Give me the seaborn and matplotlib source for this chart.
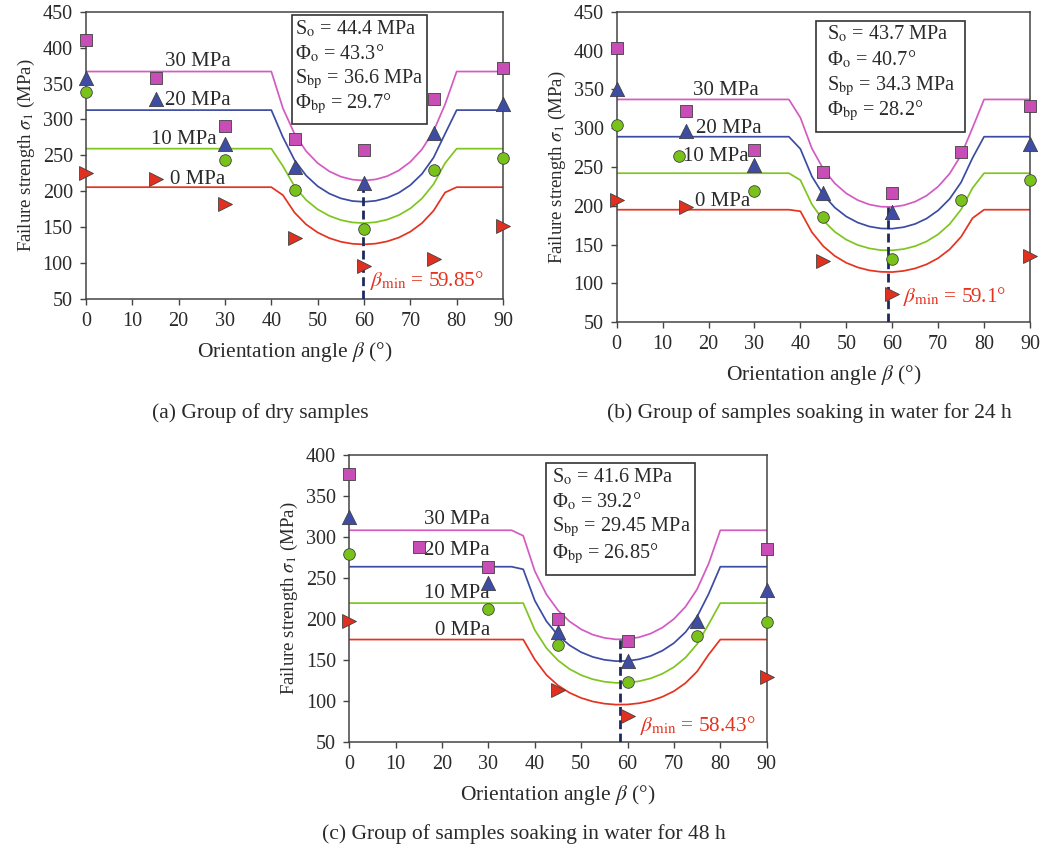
import numpy as np
import matplotlib
matplotlib.use("Agg")
import matplotlib.pyplot as plt
from matplotlib.patches import Rectangle
import seaborn as sns

nan = np.nan

# ---------------- data ----------------
ANGLES = [0, 15, 30, 45, 60, 75, 90]
ANGLES_B10 = [0, 13.6, 30, 45, 60, 75, 90]

# (a) dry samples - measured points
a_30 = [411, 358, 291, 273, 257, 328, 372]
a_20 = [357, 329, 266, 234, 211, 281, 322]
a_10 = [338, nan, 244, 202, 148, 229, 247]
a_0 = [226, 217, 182, 135, 96, 105, 152]

# (b) 24 h soaking - measured points
b_30 = [403, 322, 272, 244, 216, 269, 329]
b_20 = [350, 297, 252, 217, 192, nan, 280]
b_10 = [304, 264, 219, 185, 131, 207, 233]
b_0 = [207, 199, nan, 129, 87, nan, 136]

# (c) 48 h soaking - measured points
c_30 = [377, 288, 263, 200, 174, nan, 286]
c_20 = [324, nan, 244, 184, 149, 198, 236]
c_10 = [279, nan, 212, 168, 124, 179, 196]
c_0 = [198, nan, nan, 114, 82, nan, 129]

# fitted curves
CURVE_X = [0, 35, 37.5, 40, 42.5, 45, 47.5, 50, 52.5, 55, 57.5, 60, 62.5,
           65, 67.5, 70, 72.5, 75, 77.5, 80, 82.5, 90]

ca_0 = [205.7, 205.7, 205.7, 205.7, 194.6, 170.4, 153.9, 142.6, 134.8, 129.7, 126.9, 126.0,
        127.1, 130.2, 135.5, 143.7, 155.6, 172.8, 198.3, 205.7, 205.7, 205.7]
ca_10 = [259.3, 259.3, 259.3, 259.3, 235.0, 206.9, 187.9, 174.8, 165.8, 159.9, 156.6, 155.7,
         156.9, 160.5, 166.7, 176.1, 189.9, 209.7, 239.2, 259.3, 259.3, 259.3]
ca_20 = [313.0, 313.0, 313.0, 313.0, 275.3, 243.5, 221.9, 207.0, 196.8, 190.1, 186.4, 185.3,
         186.7, 190.8, 197.8, 208.5, 224.1, 246.7, 280.1, 313.0, 313.0, 313.0]
ca_30 = [366.7, 366.7, 366.7, 366.7, 315.6, 280.0, 255.9, 239.2, 227.8, 220.3, 216.2, 214.9,
         216.5, 221.0, 228.9, 240.9, 258.3, 283.6, 321.0, 366.7, 366.7, 366.7]

cb_0 = [195, 195, 195, 193.0, 166.0, 147.9, 135.4, 126.6, 120.7, 116.9, 115.0, 114.7,
        116.2, 119.4, 124.7, 132.6, 143.9, 160.2, 184.2, 195, 195, 195]
cb_10 = [242, 242, 242, 233.1, 202.0, 181.0, 166.5, 156.4, 149.5, 145.2, 142.9, 142.7,
         144.3, 148.1, 154.2, 163.3, 176.4, 195.3, 223.0, 242, 242, 242]
cb_20 = [289, 289, 289, 273.3, 237.9, 214.2, 197.7, 186.2, 178.4, 173.4, 170.9, 170.6,
         172.5, 176.7, 183.7, 194.1, 208.9, 230.3, 261.8, 289, 289, 289]
cb_30 = [337, 337, 337, 313.5, 273.9, 247.3, 228.9, 216.0, 207.3, 201.7, 198.9, 198.5,
         200.7, 205.4, 213.2, 224.8, 241.4, 265.4, 300.6, 337, 337, 337]

cc_0 = [175.2, 175.2, 175.2, 150.8, 132.1, 119.3, 110.3, 104.0, 99.7, 97.1, 95.9, 96.1,
        97.6, 100.6, 105.4, 112.3, 122.2, 136.3, 157.0, 175.2, 175.2, 175.2]
cc_10 = [219.6, 219.6, 219.6, 186.7, 164.8, 149.8, 139.2, 131.8, 126.8, 123.8, 122.4, 122.6,
         124.4, 127.9, 133.5, 141.6, 153.2, 169.7, 194.0, 219.6, 219.6, 219.6]
cc_20 = [263.9, 263.9, 260.8, 222.6, 197.5, 180.3, 168.2, 159.7, 154.0, 150.5, 148.9, 149.1,
         151.2, 155.2, 161.6, 170.9, 184.2, 203.1, 231.0, 263.9, 263.9, 263.9]
cc_30 = [308.3, 308.3, 301.6, 258.5, 230.2, 210.8, 197.2, 187.6, 181.1, 177.2, 175.4, 175.7,
         178.0, 182.5, 189.7, 200.3, 215.2, 236.6, 267.9, 308.3, 308.3, 308.3]

BETA_MIN = [59.85, 59.1, 58.43]
PARAM_LINES = [
    ["S$_\\mathrm{o}$ = 44.4 MPa", "Φ$_\\mathrm{o}$ = 43.3°",
     "S$_\\mathrm{bp}$ = 36.6 MPa", "Φ$_\\mathrm{bp}$ = 29.7°"],
    ["S$_\\mathrm{o}$ = 43.7 MPa", "Φ$_\\mathrm{o}$ = 40.7°",
     "S$_\\mathrm{bp}$ = 34.3 MPa", "Φ$_\\mathrm{bp}$ = 28.2°"],
    ["S$_\\mathrm{o}$ = 41.6 MPa", "Φ$_\\mathrm{o}$ = 39.2°",
     "S$_\\mathrm{bp}$ = 29.45 MPa", "Φ$_\\mathrm{bp}$ = 26.85°"],
]
BETA_TEXT = ["59.85°", "59.1°", "58.43°"]
CAPTIONS = ["(a) Group of dry samples",
            "(b) Group of samples soaking in water for 24 h",
            "(c) Group of samples soaking in water for 48 h"]
CONF_LABELS = ["30 MPa", "20 MPa", "10 MPa", "0 MPa"]

# ---------------- style ----------------
sns.set_theme(style="ticks")
plt.rcParams["font.family"] = ["Liberation Serif", "DejaVu Serif"]
plt.rcParams["mathtext.fontset"] = "stix"
plt.rcParams["axes.edgecolor"] = "#444444"
plt.rcParams["xtick.color"] = "#444444"
plt.rcParams["ytick.color"] = "#444444"

LINE_COLORS = ["#D35BC2", "#3C4CA3", "#7FC520", "#E5331F"]
MARK_COLORS = ["#C84DB6", "#3E4DA3", "#78C21A", "#E0301F"]
MARKERS = ["s", "^", "o", ">"]
MSIZES = [70, 105, 70, 100]
TXT = "#2a2a2a"

W, H = 1051, 849
fig = plt.figure(figsize=(W / 100, H / 100), dpi=100)


def frac(l, t, r, b):
    return [l / W, 1 - b / H, (r - l) / W, (b - t) / H]


panels = [
    dict(rect=frac(86, 11.7, 503, 299), ylim=(50, 450),
         pts=[(ANGLES, a_30), (ANGLES, a_20), (ANGLES, a_10), (ANGLES, a_0)],
         curves=[ca_30, ca_20, ca_10, ca_0],
         labels=[(31.2, 380), (31.2, 327), (28.2, 272), (30.0, 217)],
         box=(44.4, 293.6, 73.6, 445.4), tx=45.1, ty=[425.4, 392, 356, 321.5],
         btxt=(61.3, 76), ytop=214.9),
    dict(rect=frac(616.7, 11.7, 1030, 322.3), ylim=(50, 450),
         pts=[(ANGLES, b_30), (ANGLES, b_20), (ANGLES_B10, b_10), (ANGLES, b_0)],
         curves=[cb_30, cb_20, cb_10, cb_0],
         labels=[(30.9, 348), (31.6, 300), (28.7, 263), (29.0, 205)],
         box=(43.5, 294.6, 75.8, 438.4), tx=45.7, ty=[420.8, 388.6, 354.3, 322.5],
         btxt=(62.4, 83), ytop=198.5),
    dict(rect=frac(349.3, 455, 766.7, 742.3), ylim=(50, 400),
         pts=[(ANGLES, c_30), (ANGLES, c_20), (ANGLES, c_10), (ANGLES, c_0)],
         curves=[cc_30, cc_20, cc_10, cc_0],
         labels=[(30.3, 321.6), (30.3, 284), (30.3, 231), (30.3, 186)],
         box=(42.4, 253.8, 74.5, 389.8), tx=43.6, ty=[373.6, 343.2, 311.9, 280.2],
         btxt=(62.7, 70), ytop=175.4),
]

for i, p in enumerate(panels):
    ax = fig.add_axes(p["rect"])
    for k in range(4):
        sns.lineplot(x=CURVE_X, y=p["curves"][k], ax=ax, color=LINE_COLORS[k],
                     linewidth=1.25, errorbar=None, sort=False, zorder=2)
    for k in range(4):
        xs, ys = p["pts"][k]
        sns.scatterplot(x=xs, y=ys, ax=ax, marker=MARKERS[k], s=MSIZES[k],
                        color=MARK_COLORS[k], edgecolor="#404040", linewidth=0.6,
                        zorder=5, clip_on=False, legend=False)
    # dashed beta_min line
    ax.plot([BETA_MIN[i], BETA_MIN[i]], [p["ylim"][0], p["ytop"]], color="#1E2A5E",
            linestyle=(0, (3.2, 1.6)), linewidth=2.0, zorder=3)
    # confining pressure labels
    for k in range(4):
        lx, ly = p["labels"][k]
        ax.text(lx, ly, CONF_LABELS[k], ha="right", va="center", fontsize=15,
                color=TXT, zorder=4)
    # parameter box
    x0, y0, x1, y1 = p["box"]
    ax.add_patch(Rectangle((x0, y0), x1 - x0, y1 - y0, facecolor="white",
                           edgecolor="#333333", linewidth=1.2, zorder=4))
    for j, line in enumerate(PARAM_LINES[i]):
        ax.text(p["tx"], p["ty"][j], line, ha="left", va="center", fontsize=14.6,
                color=TXT, zorder=6)
    # beta min text
    bx, by = p["btxt"]
    ax.text(bx, by, r"$\beta_{\mathrm{min}}$ = " + BETA_TEXT[i], ha="left", va="center",
            fontsize=15.3, color="#E5331F", zorder=6)

    ax.set_xlim(0, 90)
    ax.set_ylim(*p["ylim"])
    ax.set_xticks(range(0, 91, 10))
    ax.set_yticks(range(p["ylim"][0], p["ylim"][1] + 1, 50))
    ax.tick_params(axis="both", direction="out", length=4.5, width=1.0,
                   labelsize=14.5, labelcolor=TXT, pad=5)
    for s in ax.spines.values():
        s.set_visible(True)
        s.set_linewidth(1.1)
        s.set_color("#444444")
    ax.set_xlabel(r"Orientation angle $\beta$ (°)", fontsize=15.5, color=TXT, labelpad=6)
    ax.set_ylabel(r"Failure strength $\sigma_1$ (MPa)", fontsize=13.5, color=TXT, labelpad=4)

fig.text(260 / W, 1 - 413 / H, CAPTIONS[0], ha="center", va="center", fontsize=15.5, color=TXT)
fig.text(809 / W, 1 - 413 / H, CAPTIONS[1], ha="center", va="center", fontsize=15.5, color=TXT)
fig.text(524 / W, 1 - 834 / H, CAPTIONS[2], ha="center", va="center", fontsize=15.5, color=TXT)

fig.savefig("out.png", dpi=100)
